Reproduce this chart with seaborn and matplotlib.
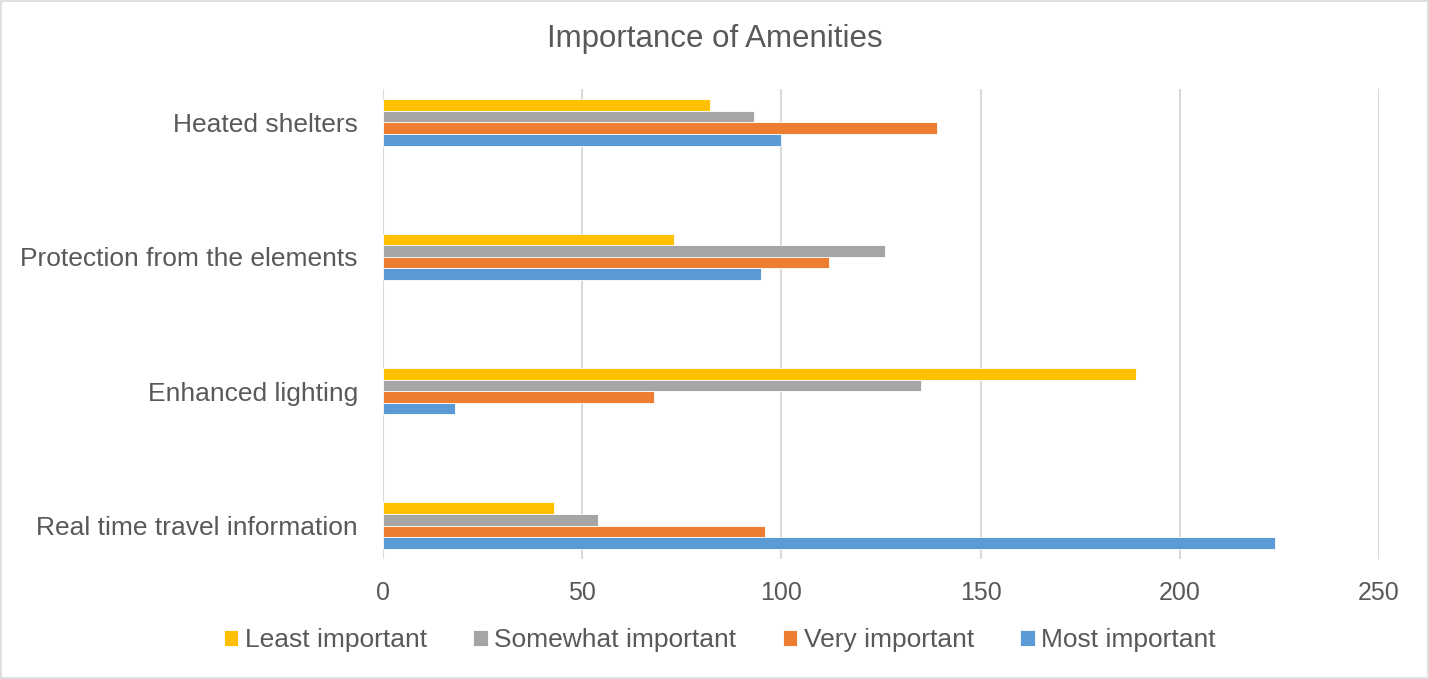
"""Importance of Amenities - clustered horizontal bar chart."""

import matplotlib
matplotlib.use("Agg")
import matplotlib.pyplot as plt
import pandas as pd
import seaborn as sns
from matplotlib.patches import Rectangle

categories = [
    "Heated shelters",
    "Protection from the elements",
    "Enhanced lighting",
    "Real time travel information",
]
least_important = [82, 73, 189, 43]
somewhat_important = [93, 126, 135, 54]
very_important = [139, 112, 68, 96]
most_important = [100, 95, 18, 224]

levels = ["Least important", "Somewhat important", "Very important", "Most important"]
colors = ["#FFC000", "#A5A5A5", "#ED7D31", "#5B9BD5"]
x_ticks = [0, 50, 100, 150, 200, 250]

wide = pd.DataFrame(
    {
        "category": categories,
        "Least important": least_important,
        "Somewhat important": somewhat_important,
        "Very important": very_important,
        "Most important": most_important,
    }
)
df = wide.melt(id_vars="category", var_name="level", value_name="count")

sns.set_style("white")
plt.rcParams["font.family"] = ["Liberation Sans", "DejaVu Sans"]
text_color = "#595959"

fig = plt.figure(figsize=(14.29, 6.79), dpi=100)
ax = fig.add_axes([383 / 1429, 1 - 559 / 679, 996 / 1429, 470 / 679])

sns.barplot(
    data=df,
    x="count",
    y="category",
    hue="level",
    hue_order=levels,
    order=categories,
    palette=colors,
    saturation=1,
    orient="h",
    width=0.345,
    edgecolor="white",
    linewidth=0.6,
    legend=True,
    ax=ax,
)

ax.set_xlim(0, 250)
ax.set_ylim(3.248, -0.249)
ax.set_xticks(x_ticks)
ax.xaxis.grid(True, color="#d9d9d9", linewidth=1.5)
ax.set_axisbelow(True)
for spine in ax.spines.values():
    spine.set_visible(False)
ax.tick_params(axis="both", length=0, colors=text_color)
ax.tick_params(axis="y", labelsize=19, pad=18)
ax.tick_params(axis="x", labelsize=18, pad=16)
ax.set_xlabel("")
ax.set_ylabel("")

handles, labels = ax.get_legend_handles_labels()
ax.legend_.remove()
fig.legend(
    handles,
    labels,
    loc="center",
    bbox_to_anchor=(720 / 1429, 1 - 640 / 679),
    ncol=4,
    frameon=False,
    fontsize=19,
    labelcolor=text_color,
    handlelength=0.55,
    handleheight=0.55,
    handletextpad=0.25,
    columnspacing=1.75,
)

fig.text(0.5, 1 - 39 / 679, "Importance of Amenities", ha="center", va="center",
         fontsize=22.5, color=text_color)

fig.patches.append(
    Rectangle((0.001, 0.001), 0.998, 0.997, transform=fig.transFigure,
              fill=False, edgecolor="#d9d9d9", linewidth=1.2)
)

fig.savefig("out.png", dpi=100)
plt.close(fig)
